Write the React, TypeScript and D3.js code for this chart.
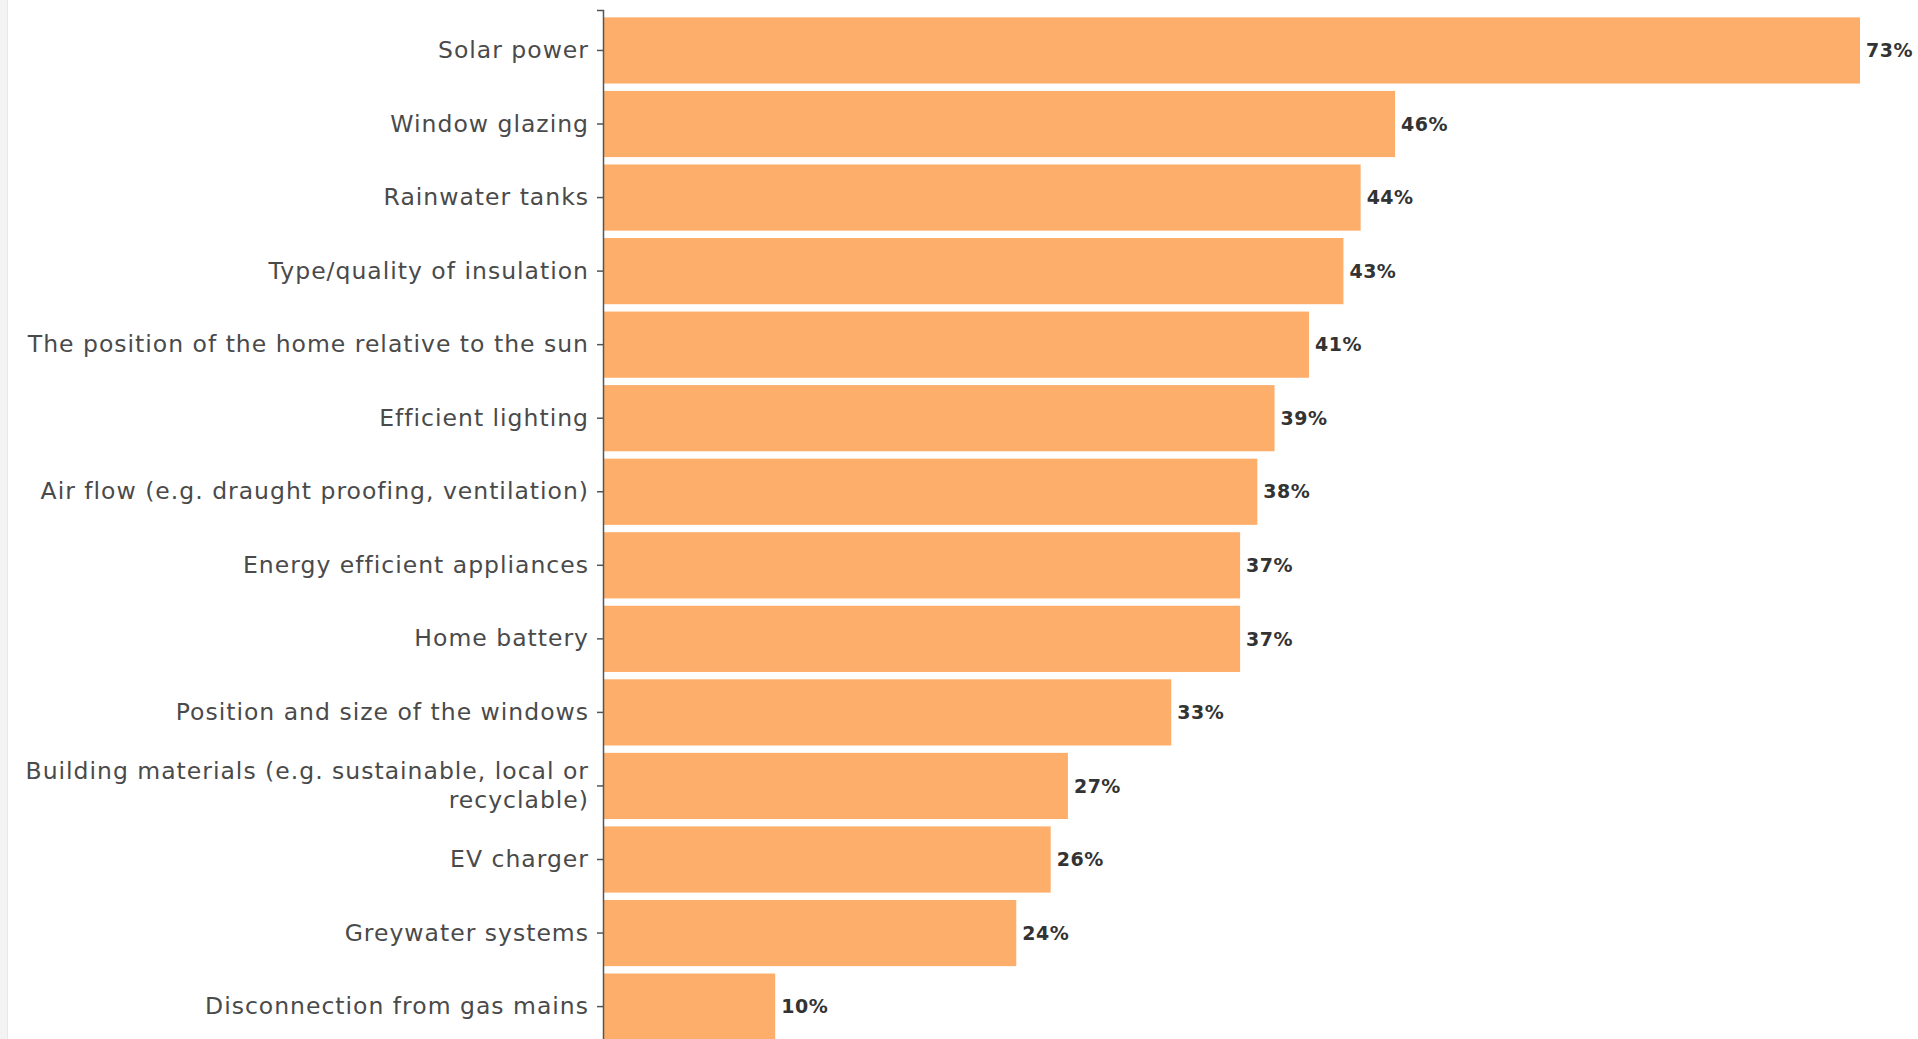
import React, { useEffect, useRef } from "react";
import * as d3 from "d3";

const categories: string[] = [
  "Solar power",
  "Window glazing",
  "Rainwater tanks",
  "Type/quality of insulation",
  "The position of the home relative to the sun",
  "Efficient lighting",
  "Air flow (e.g. draught proofing, ventilation)",
  "Energy efficient appliances",
  "Home battery",
  "Position and size of the windows",
  "Building materials (e.g. sustainable, local or recyclable)",
  "EV charger",
  "Greywater systems",
  "Disconnection from gas mains",
];
const values: number[] = [73, 46, 44, 43, 41, 39, 38, 37, 37, 33, 27, 26, 24, 10];

const W = 1918;
const H = 1039;
const FONT = "'DejaVu Sans', 'Open Sans', sans-serif";

export default function App() {
  const ref = useRef<SVGSVGElement | null>(null);

  useEffect(() => {
    document.body.style.overflow = "hidden";
    const svg = d3.select(ref.current);
    svg.selectAll("*").remove();

    // left page strip
    svg.append("rect").attr("x", 0).attr("y", 0).attr("width", 7).attr("height", H).attr("fill", "#f3f3f3");
    svg.append("line").attr("x1", 7.5).attr("x2", 7.5).attr("y1", 0).attr("y2", H).attr("stroke", "#e8e8e8");

    const left = 603;
    const x = d3.scaleLinear().domain([0, d3.max(values) as number]).range([left, 1860]);
    const step = 73.55;
    const pad = 0.1;
    const y = d3
      .scaleBand<string>()
      .domain(categories)
      .range([10, 10 + step * (categories.length - pad + 2 * pad)])
      .paddingInner(pad)
      .paddingOuter(pad);

    const data = categories.map((c, i) => ({ c, v: values[i] }));

    svg
      .append("g")
      .selectAll("rect")
      .data(data)
      .join("rect")
      .attr("x", x(0) + 1)
      .attr("y", (d) => y(d.c) as number)
      .attr("width", (d) => x(d.v) - x(0) - 1)
      .attr("height", y.bandwidth())
      .attr("fill", "#fdae6b");

    const axis = svg
      .append("g")
      .attr("transform", `translate(${left},0)`)
      .call(d3.axisLeft(y).tickSize(6).tickPadding(8));
    axis.select(".domain").attr("stroke", "#555").attr("stroke-width", 1.5);
    axis.selectAll(".tick line").attr("stroke", "#555").attr("stroke-width", 1.5);
    axis
      .selectAll<SVGTextElement, string>(".tick text")
      .attr("font-family", FONT)
      .attr("font-size", 23.5)
      .attr("font-weight", 400)
      .attr("letter-spacing", "1px")
      .attr("fill", "#4a4a4a")
      .call(wrap, 575);

    svg
      .append("g")
      .selectAll("text")
      .data(data)
      .join("text")
      .attr("x", (d) => x(d.v) + 6)
      .attr("y", (d) => (y(d.c) as number) + y.bandwidth() / 2)
      .attr("dy", "0.35em")
      .attr("font-family", FONT)
      .attr("font-size", 19)
      .attr("font-weight", 700)
      .attr("letter-spacing", "0.5px")
      .attr("fill", "#333")
      .text((d) => `${d.v}%`);
  }, []);

  return (
    <svg
      ref={ref}
      width={W}
      height={H}
      style={{ position: "absolute", left: 0, top: 0, background: "#fff" }}
    />
  );
}

function wrap(sel: d3.Selection<SVGTextElement, string, any, any>, width: number) {
  sel.each(function () {
    const text = d3.select(this);
    const words = text.text().split(/\s+/);
    const xAttr = text.attr("x");
    const dy = parseFloat(text.attr("dy") || "0");
    text.text(null);
    let line: string[] = [];
    const lines: string[][] = [];
    let tspan = text.append("tspan").attr("x", xAttr);
    for (const w of words) {
      line.push(w);
      tspan.text(line.join(" "));
      if ((tspan.node() as SVGTSpanElement).getComputedTextLength() > width && line.length > 1) {
        line.pop();
        lines.push(line);
        line = [w];
        tspan.text(w);
      }
    }
    lines.push(line);
    text.text(null);
    const lh = 1.2;
    const start = dy - ((lines.length - 1) * lh) / 2;
    lines.forEach((l, i) => {
      text
        .append("tspan")
        .attr("x", xAttr)
        .attr("dy", i === 0 ? `${start}em` : `${lh}em`)
        .text(l.join(" "));
    });
  });
}
